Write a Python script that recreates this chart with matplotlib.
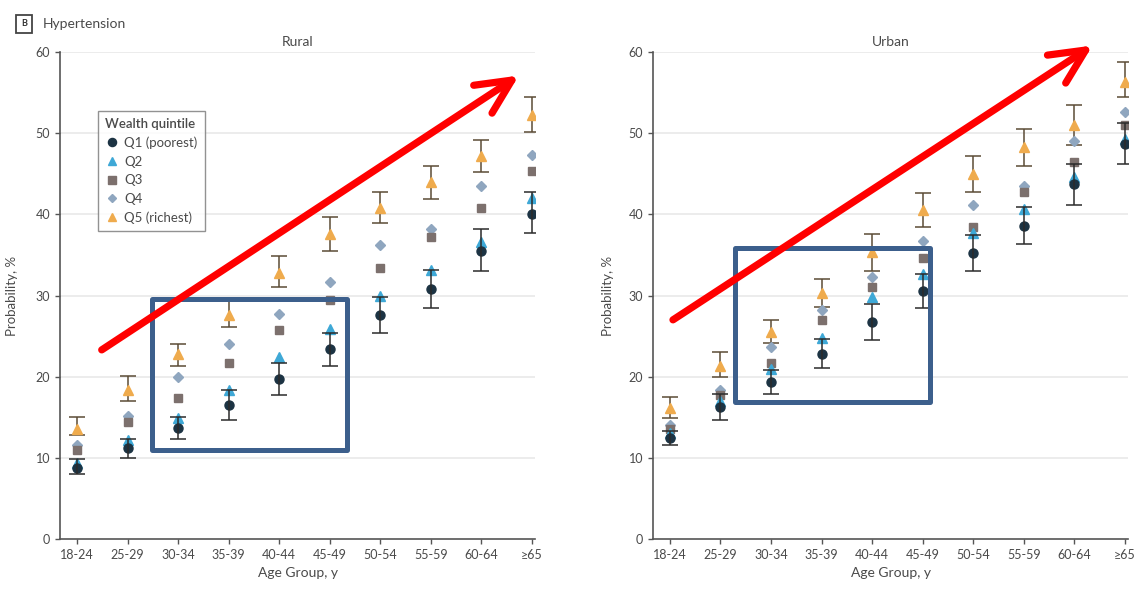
import numpy as np
import matplotlib
matplotlib.use("Agg")
import matplotlib.pyplot as plt
from matplotlib.lines import Line2D
from matplotlib.patches import Rectangle

plt.rcParams['font.family'] = ['Lato', 'DejaVu Sans']

# ---- data ----
age_groups = ['18-24', '25-29', '30-34', '35-39', '40-44', '45-49',
              '50-54', '55-59', '60-64', '≥65']
quintile_labels = ['Q1 (poorest)', 'Q2', 'Q3', 'Q4', 'Q5 (richest)']

rural_q1 = [8.8, 11.2, 13.7, 16.5, 19.7, 23.4, 27.6, 30.8, 35.5, 40.1]
rural_q1_lo = [8.0, 10.0, 12.3, 14.7, 17.7, 21.3, 25.4, 28.4, 33.0, 37.7]
rural_q1_hi = [9.8, 12.3, 15.0, 18.3, 21.7, 25.4, 29.8, 33.2, 38.2, 42.7]
rural_q2 = [9.4, 12.2, 14.9, 18.4, 22.4, 25.9, 30.0, 33.2, 36.6, 42.0]
rural_q3 = [11.0, 14.4, 17.4, 21.7, 25.8, 29.4, 33.4, 37.2, 40.8, 45.3]
rural_q4 = [11.6, 15.1, 20.0, 24.0, 27.7, 31.7, 36.2, 38.2, 43.5, 47.3]
rural_q5 = [13.6, 18.4, 22.8, 27.6, 32.8, 37.6, 40.8, 44.0, 47.2, 52.3]
rural_q5_lo = [12.8, 17.0, 21.3, 26.1, 31.0, 35.5, 38.9, 41.9, 45.2, 50.2]
rural_q5_hi = [15.0, 20.1, 24.0, 29.3, 34.9, 39.7, 42.8, 46.0, 49.2, 54.5]

urban_q1 = [12.4, 16.3, 19.3, 22.8, 26.7, 30.5, 35.2, 38.6, 43.7, 48.7]
urban_q1_lo = [11.6, 14.7, 17.9, 21.1, 24.5, 28.4, 33.0, 36.3, 41.2, 46.2]
urban_q1_hi = [13.3, 17.9, 20.8, 24.6, 29.0, 32.7, 37.4, 40.9, 46.2, 51.2]
urban_q2 = [13.0, 17.0, 20.9, 24.8, 29.8, 32.7, 37.7, 40.6, 44.6, 49.3]
urban_q3 = [13.5, 17.8, 21.7, 27.0, 31.1, 34.6, 38.5, 42.8, 46.5, 51.0]
urban_q4 = [14.0, 18.3, 23.6, 28.2, 32.3, 36.7, 41.1, 43.5, 49.0, 52.6]
urban_q5 = [16.1, 21.3, 25.5, 30.3, 35.3, 40.5, 45.0, 48.3, 51.0, 56.3]
urban_q5_lo = [14.9, 20.0, 24.1, 28.6, 33.0, 38.5, 42.8, 46.0, 48.6, 54.4]
urban_q5_hi = [17.5, 23.0, 27.0, 32.0, 37.6, 42.6, 47.2, 50.5, 53.5, 58.8]

# red trend arrows and blue highlight boxes (data coords of each panel)
rural_arrow = ((0.49, 23.3), (8.74, 57.1))
urban_arrow = ((0.06, 27.0), (8.36, 60.8))
rural_box = (1.48, 11.0, 5.35, 29.6)
urban_box = (1.29, 16.9, 5.15, 35.8)

# ---- styles ----
colors = ['#1c3343', '#3ea8d6', '#7c706d', '#8fa6bf', '#efab4d']
markers = ['o', '^', 's', 'D', '^']
msizes = [6.5, 6.5, 6.0, 4.8, 6.5]
text_col = '#4a4a4a'
box_col = '#3c5f8c'

fig = plt.figure(figsize=(11.43, 5.89), dpi=100)
ax_r = fig.add_axes([0.0525, 0.0849, 0.4156, 0.8268])
ax_u = fig.add_axes([0.5713, 0.0849, 0.4156, 0.8268])

x = np.arange(len(age_groups))


def draw_panel(ax, title, series, q1_ci, q5_ci, arrow, box, ylab_x):
    ax.set_xlim(-0.335, 9.06)
    ax.set_ylim(0, 60)
    ax.set_yticks(range(0, 61, 10))
    ax.set_xticks(x)
    ax.set_xticklabels(age_groups)
    for v in range(10, 61, 10):
        ax.axhline(v, color='#ebebeb', lw=1.3, zorder=0)
    for s in ['top', 'right']:
        ax.spines[s].set_visible(False)
    for s in ['left', 'bottom']:
        ax.spines[s].set_color('#555555')
        ax.spines[s].set_linewidth(1.2)
    ax.tick_params(axis='both', colors='#555555', labelcolor=text_col,
                   labelsize=9, length=3.5, width=1.0)

    # error bars for Q5 and Q1
    q5 = np.array(series[4])
    ax.errorbar(x, q5, yerr=[q5 - np.array(q5_ci[0]), np.array(q5_ci[1]) - q5],
                fmt='none', ecolor='#5b4b36', elinewidth=1.1, capsize=5.5,
                capthick=1.1, zorder=2)
    for i in [4, 3, 2, 1, 0]:
        ax.plot(x, series[i], linestyle='none', marker=markers[i],
                ms=msizes[i], color=colors[i], mec=colors[i], zorder=3 + (4 - i) * 0.1)
    q1 = np.array(series[0])
    ax.errorbar(x, q1, yerr=[q1 - np.array(q1_ci[0]), np.array(q1_ci[1]) - q1],
                fmt='none', ecolor='#2b2b2b', elinewidth=1.1, capsize=5.5,
                capthick=1.1, zorder=4)

    ax.set_title(title, fontsize=10, color=text_col, pad=4)
    ax.set_ylabel('Probability, %', fontsize=9.5, color=text_col)
    ax.yaxis.set_label_coords(ylab_x, 0.5)
    ax.set_xlabel('Age Group, y', fontsize=10, color=text_col)
    ax.xaxis.set_label_coords(0.5, -0.058)

    # overlays
    ax.annotate('', xy=arrow[1], xytext=arrow[0], annotation_clip=False,
                arrowprops=dict(arrowstyle='->,head_length=25,head_width=12',
                                mutation_scale=1, color='#ff0000', lw=5.2,
                                shrinkA=0, shrinkB=0),
                zorder=6)
    x0, y0, x1, y1 = box
    ax.add_patch(Rectangle((x0, y0), x1 - x0, y1 - y0, fill=False,
                           ec=box_col, lw=3.6, clip_on=False, zorder=5,
                           joinstyle='round'))


draw_panel(ax_r, 'Rural',
           [rural_q1, rural_q2, rural_q3, rural_q4, rural_q5],
           (rural_q1_lo, rural_q1_hi), (rural_q5_lo, rural_q5_hi),
           rural_arrow, rural_box, -0.088)
draw_panel(ax_u, 'Urban',
           [urban_q1, urban_q2, urban_q3, urban_q4, urban_q5],
           (urban_q1_lo, urban_q1_hi), (urban_q5_lo, urban_q5_hi),
           urban_arrow, urban_box, -0.082)

# legend inside rural panel
handles = [Line2D([], [], linestyle='none', marker=markers[i], ms=msizes[i] * 0.9,
                  color=colors[i]) for i in range(5)]
leg = ax_r.legend(handles, quintile_labels, title='Wealth quintile',
                  loc='upper left', bbox_to_anchor=(0.066, 0.893),
                  fontsize=9.5, title_fontsize=9.5, frameon=True, fancybox=False,
                  edgecolor='#777777', handlelength=1.0, handletextpad=0.45,
                  labelspacing=0.5, borderpad=0.55, alignment='left')
leg.get_frame().set_linewidth(1.0)
leg.get_title().set_fontweight('semibold')
leg.get_title().set_color(text_col)
for t in leg.get_texts():
    t.set_color(text_col)

# panel tag
fig.text(24 / 1143, 1 - 24 / 589, 'B', fontsize=6.5, fontweight='bold',
         color='#333333', ha='center', va='center',
         bbox=dict(boxstyle='square,pad=0.55', fc='white', ec='#444444', lw=1.3))
fig.text(43 / 1143, 1 - 24 / 589, 'Hypertension', fontsize=10,
         color=text_col, ha='left', va='center')

fig.savefig('out.png', dpi=100)
